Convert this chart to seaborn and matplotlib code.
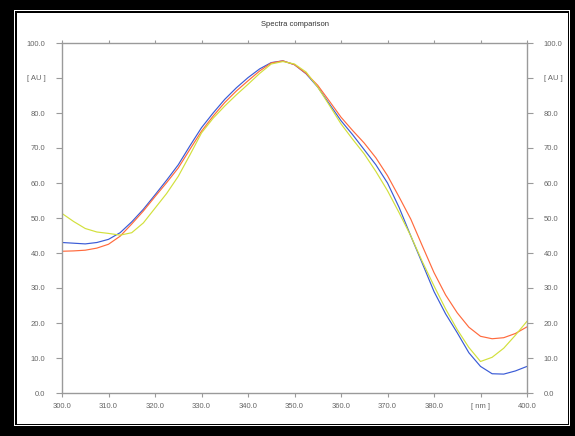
import numpy as np
import pandas as pd
import matplotlib
matplotlib.use("Agg")
import matplotlib.pyplot as plt
from matplotlib.patches import Rectangle
import seaborn as sns

# === Dados (nm, AU) ===
wavelength = [300, 302.5, 305, 307.5, 310, 312.5, 315, 317.5, 320, 322.5,
              325, 327.5, 330, 332.5, 335, 337.5, 340, 342.5, 345, 347.5,
              350, 352.5, 355, 357.5, 360, 362.5, 365, 367.5, 370, 372.5,
              375, 377.5, 380, 382.5, 385, 387.5, 390, 392.5, 395, 397.5, 400]

blue = [43.0, 42.8, 42.6, 43.0, 43.9, 45.8, 48.9, 52.5, 56.6, 60.8,
        65.2, 70.6, 75.8, 80.0, 83.9, 87.2, 90.1, 92.6, 94.4, 94.9,
        93.8, 91.2, 87.4, 82.6, 77.8, 73.8, 69.5, 65.2, 60.0, 53.0,
        44.9, 37.0, 29.0, 22.6, 17.2, 11.5, 7.6, 5.5, 5.4, 6.3, 7.6]

orange = [40.5, 40.6, 40.8, 41.4, 42.5, 44.8, 48.3, 52.0, 56.1, 60.1,
          64.3, 69.6, 74.8, 79.1, 83.0, 86.3, 89.2, 92.0, 94.3, 94.9,
          93.8, 91.3, 87.9, 83.4, 78.8, 75.0, 71.4, 67.2, 62.1, 56.0,
          49.7, 42.0, 34.4, 28.0, 22.9, 18.8, 16.2, 15.5, 15.8, 17.0, 18.9]

yellow = [51.3, 49.0, 47.0, 46.0, 45.6, 45.1, 45.8, 48.6, 52.8, 57.0,
          61.9, 68.0, 74.3, 78.5, 82.0, 85.2, 88.2, 91.3, 94.0, 94.7,
          94.0, 91.7, 87.4, 82.2, 76.9, 72.5, 68.3, 63.3, 57.8, 51.5,
          44.9, 37.5, 30.6, 24.0, 18.1, 13.0, 9.0, 10.2, 12.8, 16.5, 20.5]

x_ticks = [300, 310, 320, 330, 340, 350, 360, 370, 380, 390, 400]
x_labels = ["300.0", "310.0", "320.0", "330.0", "340.0", "350.0",
            "360.0", "370.0", "380.0", "[ nm ]", "400.0"]
y_ticks = [0, 10, 20, 30, 40, 50, 60, 70, 80, 90, 100]
y_labels = ["0.0", "10.0", "20.0", "30.0", "40.0", "50.0",
            "60.0", "70.0", "80.0", "[ AU ]", "100.0"]

df = pd.DataFrame({
    "nm": wavelength * 3,
    "AU": blue + orange + yellow,
    "amostra": ["azul"] * len(blue) + ["laranja"] * len(orange) + ["amarelo"] * len(yellow),
})
cores = {"azul": "#3a5bd6", "laranja": "#ff6a3d", "amarelo": "#d2e03c"}

sns.set_style("white")
plt.rcParams["font.family"] = ["Liberation Sans", "DejaVu Sans"]

W, H = 575, 436
fig = plt.figure(figsize=(W / 100, H / 100), dpi=100, facecolor="black")

# === Moldura dupla (atrás dos eixos) ===
fig.patches.append(Rectangle((14, 10), 556, 416, facecolor="white", edgecolor="none",
                             transform=None, zorder=-3))
fig.patches.append(Rectangle((15, 11), 554, 414, facecolor="black", edgecolor="none",
                             transform=None, zorder=-2))
fig.patches.append(Rectangle((16.5, 12.5), 551, 411, facecolor="white", edgecolor="none",
                             transform=None, zorder=-1))

ax = fig.add_axes([62 / W, (H - 393) / H, (527 - 62) / W, (393 - 43) / H])
sns.lineplot(data=df, x="nm", y="AU", hue="amostra", palette=cores,
             linewidth=0.85, legend=False, ax=ax)

ax.set_xlim(300, 400)
ax.set_ylim(0, 100)
ax.set_xlabel("")
ax.set_ylabel("")

ax.set_xticks(x_ticks)
ax.set_xticklabels(x_labels)
ax.set_yticks(y_ticks)
ax.set_yticklabels(y_labels)

cinza = "#9a9a9a"
for s in ax.spines.values():
    s.set_color(cinza)
    s.set_linewidth(1.0)

ax.tick_params(axis="both", which="both", direction="out", color=cinza,
               labelcolor="#666666", labelsize=5.5, width=0.8)
ax.tick_params(axis="y", left=True, right=True, labelleft=True, labelright=True,
               length=4, pad=8)
ax.tick_params(axis="x", bottom=True, top=True, length=3, pad=4)
for t in ax.xaxis.get_ticklines()[1::2]:
    t.set_markersize(2)

fig.text(295 / W, (H - 25) / H, "Spectra comparison", ha="center", va="center",
         fontsize=5.5, color="#333333")

fig.savefig("out.png", dpi=100, facecolor="black")
